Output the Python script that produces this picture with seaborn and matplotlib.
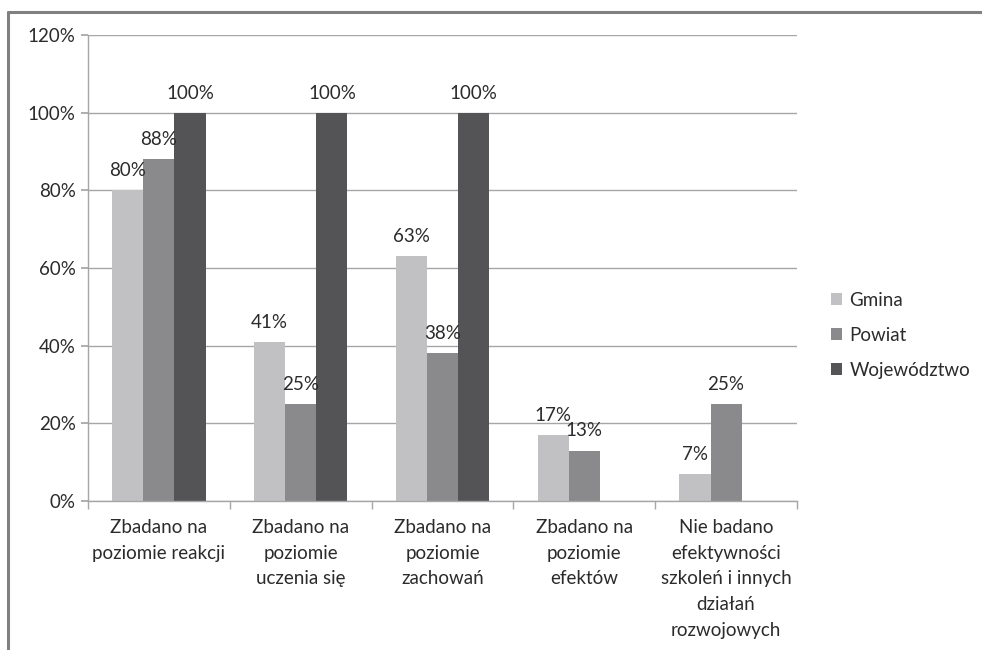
import matplotlib
matplotlib.use("Agg")
import matplotlib.pyplot as plt
from matplotlib.lines import Line2D
from matplotlib.ticker import PercentFormatter, FixedLocator
import seaborn as sns
import pandas as pd

categories = [
    "Zbadano na\npoziomie reakcji",
    "Zbadano na\npoziomie\nuczenia się",
    "Zbadano na\npoziomie\nzachowań",
    "Zbadano na\npoziomie\nefektów",
    "Nie badano\nefektywności\nszkoleń i innych\ndziałań\nrozwojowych",
]
series = ["Gmina", "Powiat", "Województwo"]
gmina = [80, 41, 63, 17, 7]
powiat = [88, 25, 38, 13, 25]
wojewodztwo = [100, 100, 100, 0, 0]
colors = ["#c1c1c3", "#8a8a8d", "#545457"]

rows = []
for name, vals in zip(series, [gmina, powiat, wojewodztwo]):
    for cat, v in zip(categories, vals):
        rows.append({"kategoria": cat, "jednostka": name, "wartosc": v})
df = pd.DataFrame(rows)

sns.set_theme(style="white")
plt.rcParams["font.family"] = ["Lato", "DejaVu Sans"]
text_color = "#2b2b2b"
fs = 13.5

fig = plt.figure(figsize=(9.82, 6.5), dpi=100)
ax = fig.add_axes([88 / 982, 149 / 650, (797 - 88) / 982, (501 - 35) / 650])

sns.barplot(data=df, x="kategoria", y="wartosc", hue="jednostka",
            hue_order=series, palette=colors, width=0.66, gap=0,
            saturation=1, linewidth=0, ax=ax, legend=True)

for container in ax.containers:
    labels = [f"{int(round(b.get_height()))}%" if b.get_height() > 0 else ""
              for b in container]
    ax.bar_label(container, labels=labels, padding=8, fontsize=fs,
                 color=text_color)

ax.set_ylim(0, 120)
ax.set_xlim(-0.5, len(categories) - 0.5)
ax.set_yticks(range(0, 121, 20))
ax.yaxis.set_major_formatter(PercentFormatter(decimals=0))
ax.yaxis.grid(True, color="#a6a6a6", linewidth=1)
ax.set_axisbelow(True)
ax.set_xlabel("")
ax.set_ylabel("")

for side in ["top", "right"]:
    ax.spines[side].set_visible(False)
for side in ["left", "bottom"]:
    ax.spines[side].set_color("#a6a6a6")
    ax.spines[side].set_linewidth(1)

ax.tick_params(axis="y", which="major", length=5, color="#a6a6a6",
               labelsize=fs, labelcolor=text_color, pad=4, left=True)
ax.tick_params(axis="x", which="major", length=0, labelsize=fs,
               labelcolor=text_color, pad=13)
ax.xaxis.set_minor_locator(FixedLocator([i - 0.5 for i in range(len(categories) + 1)]))
ax.tick_params(axis="x", which="minor", length=6, color="#a6a6a6",
               bottom=True, width=1)
for lbl in ax.get_xticklabels():
    lbl.set_linespacing(1.62)

handles, labels = ax.get_legend_handles_labels()
ax.get_legend().remove()
fig.legend(handles, labels, loc="upper left",
           bbox_to_anchor=(814 / 982, 1 - 275 / 650),
           frameon=False, fontsize=fs, labelcolor=text_color,
           handlelength=0.6, handleheight=0.6, handletextpad=0.4,
           labelspacing=0.95)

# outer frame of the figure
frame_kw = dict(transform=fig.transFigure, color="#808080", linewidth=2.2)
fig.add_artist(Line2D([8 / 982, 1.0], [1 - 12 / 650, 1 - 12 / 650], **frame_kw))
fig.add_artist(Line2D([8 / 982, 8 / 982], [0.0, 1 - 12 / 650], **frame_kw))

fig.savefig("out.png", dpi=100)
